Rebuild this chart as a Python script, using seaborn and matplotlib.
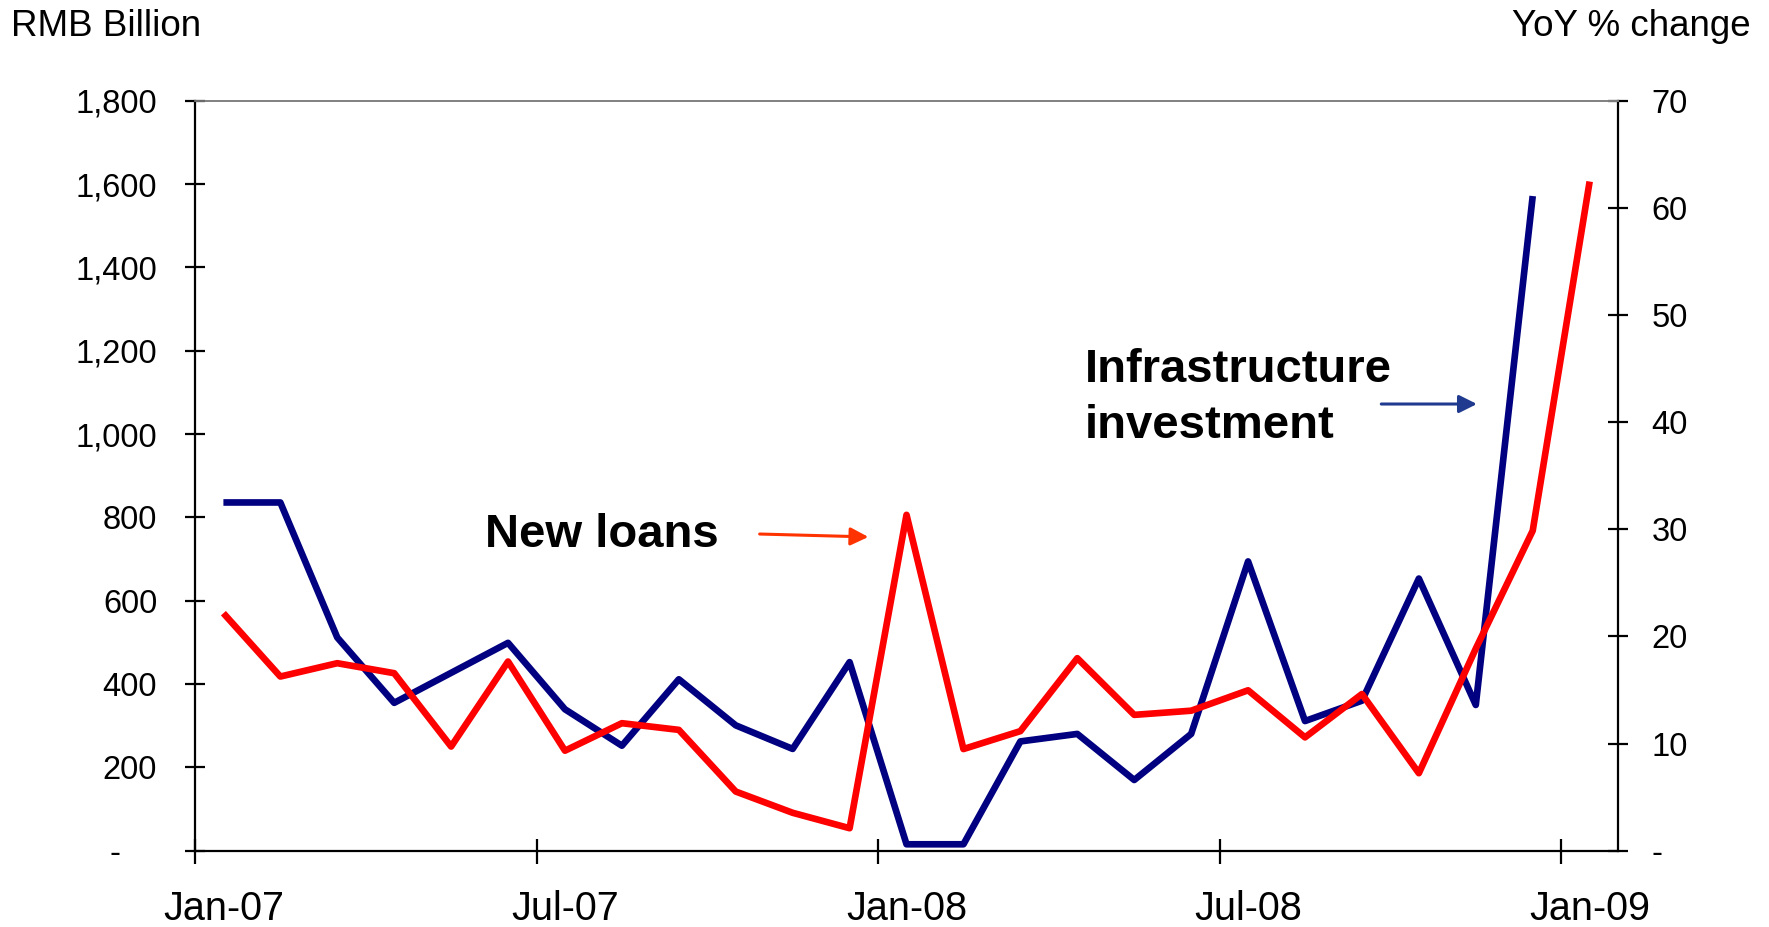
import matplotlib
matplotlib.use("Agg")
import matplotlib.pyplot as plt
import seaborn as sns
import pandas as pd
import numpy as np
from matplotlib.ticker import FixedLocator, FuncFormatter

# ---------------- data ----------------
months = ["Jan-07", "Feb-07", "Mar-07", "Apr-07", "May-07", "Jun-07", "Jul-07", "Aug-07",
          "Sep-07", "Oct-07", "Nov-07", "Dec-07", "Jan-08", "Feb-08", "Mar-08", "Apr-08",
          "May-08", "Jun-08", "Jul-08", "Aug-08", "Sep-08", "Oct-08", "Nov-08", "Dec-08",
          "Jan-09"]
new_loans = [570, 418, 450, 426, 250, 454, 240, 306, 290, 142, 91, 54,
             806, 244, 287, 462, 326, 336, 385, 272, 376, 186, 485, 768, 1606]
infra_yoy = [32.5, 32.5, 19.9, 13.8, 16.6, 19.4, 13.2, 9.8, 16.0, 11.7, 9.5, 17.6,
             0.6, 0.6, 10.2, 10.9, 6.6, 10.9, 27.0, 12.1, 14.0, 25.4, 13.6, 61.1]
label_months = ["Jan-07", "Jul-07", "Jan-08", "Jul-08", "Jan-09"]
left_ticks = [0, 200, 400, 600, 800, 1000, 1200, 1400, 1600, 1800]
right_ticks = [0, 10, 20, 30, 40, 50, 60, 70]

loans_df = pd.DataFrame({"pos": np.arange(len(new_loans)), "value": new_loans})
infra_df = pd.DataFrame({"pos": np.arange(len(infra_yoy)), "value": infra_yoy})

# ---------------- style ----------------
sns.set_style("white")
plt.rcParams["font.family"] = ["Liberation Sans", "DejaVu Sans"]
plt.rcParams["text.color"] = "black"
plt.rcParams["axes.labelcolor"] = "black"
plt.rcParams["xtick.color"] = "black"
plt.rcParams["ytick.color"] = "black"

RED = "#FF0000"
NAVY = "#000080"

fig = plt.figure(figsize=(17.69, 9.27), dpi=100)
ax = fig.add_axes([0.1102, 0.0823, 0.8045, 0.8091])
ax2 = ax.twinx()

sns.lineplot(data=loans_df, x="pos", y="value", ax=ax, color=RED, linewidth=4.8,
             solid_capstyle="butt", solid_joinstyle="round")
sns.lineplot(data=infra_df, x="pos", y="value", ax=ax2, color=NAVY, linewidth=4.8,
             solid_capstyle="butt", solid_joinstyle="round")

ax.set_xlim(-0.5, len(months) - 0.5)
ax.set_ylim(0, 1800)
ax2.set_ylim(0, 70)
ax.set_xlabel("")
ax.set_ylabel("")
ax2.set_xlabel("")
ax2.set_ylabel("")

# spines
for a in (ax, ax2):
    for s in ("left", "right", "bottom"):
        a.spines[s].set_color("black")
        a.spines[s].set_linewidth(1.6)
    a.spines["top"].set_color("#808080")
    a.spines["top"].set_linewidth(1.2)
ax2.spines["left"].set_visible(False)
ax2.spines["bottom"].set_visible(False)
ax.spines["right"].set_visible(False)

# y ticks
def left_fmt(v, p):
    return "-    " if v == 0 else f"{int(v):,}"

def right_fmt(v, p):
    return "-" if v == 0 else f"{int(v)}"

ax.yaxis.set_major_locator(FixedLocator(left_ticks))
ax.yaxis.set_major_formatter(FuncFormatter(left_fmt))
ax.tick_params(axis="y", direction="inout", length=14.4, width=1.6, pad=20,
               labelsize=23.5, colors="black", left=True)
ax2.yaxis.set_major_locator(FixedLocator(right_ticks))
ax2.yaxis.set_major_formatter(FuncFormatter(right_fmt))
ax2.tick_params(axis="y", direction="inout", length=14.4, width=1.6, pad=17,
                labelsize=23.5, colors="black", right=True)

# x ticks: marks on month boundaries, labels centred on months
label_pos = [months.index(m) for m in label_months]
ax.xaxis.set_major_locator(FixedLocator([p - 0.5 for p in label_pos]))
ax.xaxis.set_major_formatter(FuncFormatter(lambda v, p: ""))
ax.xaxis.set_minor_locator(FixedLocator(label_pos))
ax.set_xticklabels(label_months, minor=True)
ax.tick_params(axis="x", which="major", direction="inout", length=18, width=1.6,
               bottom=True, colors="black")
ax.tick_params(axis="x", which="minor", length=0, pad=28, labelsize=28.5,
               bottom=True, colors="black")

# axis titles
fig.text(11 / 1769, 1 - 36 / 927, "RMB Billion", fontsize=26.5, ha="left",
         va="baseline", color="black")
fig.text(1751 / 1769, 1 - 36 / 927, "YoY % change", fontsize=26.5, ha="right",
         va="baseline", color="black")

# annotations
ax.text(4.59, 729, "New loans", fontsize=34, fontweight="bold", ha="left",
        va="baseline", color="black")
ax.annotate("", xy=(11.33, 753), xytext=(9.42, 760),
            arrowprops=dict(arrowstyle="-|>", color="#FF3300", lw=2.2,
                            mutation_scale=27, shrinkA=0, shrinkB=0))
ax.text(15.13, 1125, "Infrastructure", fontsize=34, fontweight="bold",
        ha="left", va="baseline", color="black")
ax.text(15.13, 991, "investment", fontsize=34, fontweight="bold",
        ha="left", va="baseline", color="black")
ax.annotate("", xy=(22.02, 1072), xytext=(20.34, 1072),
            arrowprops=dict(arrowstyle="-|>", color="#1F3A8F", lw=2.2,
                            mutation_scale=27, shrinkA=0, shrinkB=0))

ax.set_zorder(ax2.get_zorder() + 1)
ax.patch.set_visible(False)
for line in ax.lines:
    line.set_zorder(1)

fig.savefig("out.png", dpi=100)
